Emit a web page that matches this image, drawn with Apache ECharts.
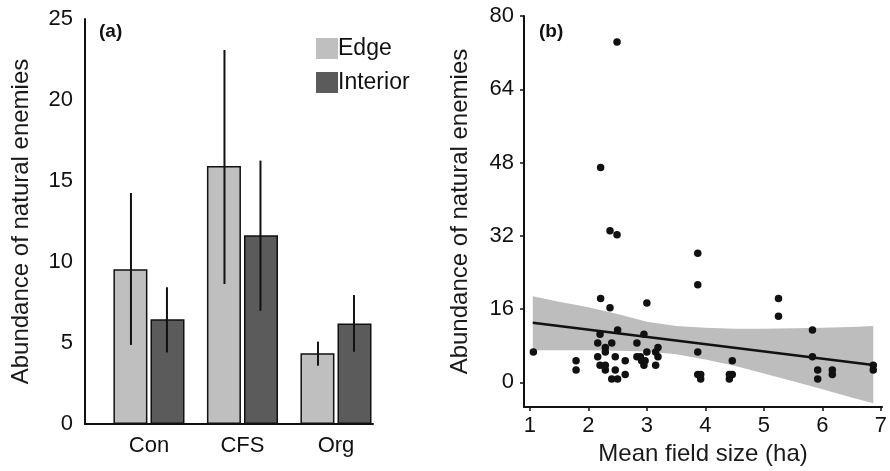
<!DOCTYPE html>
<html>
<head>
<meta charset="utf-8">
<script src="https://cdn.jsdelivr.net/npm/echarts@6/dist/echarts.min.js"></script>
<style>
  html, body { margin: 0; padding: 0; background: #fff; }
  #chart { width: 890px; height: 471px; }
</style>
</head>
<body>
<div id="chart"></div>
<script>
// panel (a): bars with error bars
var categories = ['Con', 'CFS', 'Org'];
var edgeMean = [9.55, 15.93, 4.36];
var edgeLow = [4.88, 8.64, 3.60];
var edgeHigh = [14.26, 23.09, 5.08];
var interiorMean = [6.46, 11.65, 6.21];
var interiorLow = [4.42, 6.99, 4.46];
var interiorHigh = [8.44, 16.26, 7.96];

// panel (b): scatter, fitted line, confidence band
var fieldSize = [1.06, 1.79, 1.79, 2.16, 2.16, 2.20, 2.21, 2.21, 2.20, 2.29, 2.29, 2.29, 2.29,
  2.37, 2.37, 2.40, 2.40, 2.46, 2.46, 2.49, 2.49, 2.50, 2.50, 2.63, 2.63, 2.83, 2.83, 2.89,
  2.91, 2.95, 2.95, 2.97, 3.00, 3.00, 3.15, 3.15, 3.19, 3.19, 3.87, 3.87, 3.87, 3.87, 3.92,
  3.92, 4.41, 4.41, 4.46, 4.46, 5.25, 5.25, 5.83, 5.83, 5.92, 5.92, 6.17, 6.17, 6.87, 6.87];
var abundance = [6.6, 4.7, 2.7, 8.6, 5.6, 10.5, 18.3, 46.9, 3.7, 7.6, 6.6, 3.7, 2.7,
  16.3, 33.1, 8.6, 0.7, 5.6, 2.7, 74.3, 32.2, 11.4, 0.7, 4.7, 1.7, 8.6, 5.6, 5.6,
  4.7, 10.5, 3.7, 4.7, 17.3, 6.6, 6.6, 3.7, 7.6, 5.6, 28.2, 21.3, 6.6, 1.7, 1.7,
  0.7, 0.7, 1.7, 1.7, 4.7, 18.3, 14.4, 11.4, 5.6, 2.7, 0.7, 2.7, 1.7, 3.7, 2.7];
var fitX = [1.05, 6.87];
var fitY = [13.0, 3.8];
var bandX = [1.05, 1.5, 2.0, 2.5, 3.0, 3.5, 4.0, 4.5, 5.0, 5.5, 6.0, 6.5, 6.87];
var bandUpper = [18.8, 17.6, 16.4, 14.9, 13.2, 12.3, 11.9, 11.7, 11.7, 11.8, 11.9, 12.1, 12.3];
var bandLower = [7.0, 7.0, 7.0, 6.9, 6.7, 6.1, 5.0, 3.6, 1.9, 0.2, -1.5, -3.3, -4.6];
var yTicksA = [0, 5, 10, 15, 20, 25];
var yTicksB = [0, 16, 32, 48, 64, 80];
var xTicksB = [1, 2, 3, 4, 5, 6, 7];

var FONT = "'Liberation Sans', Arial, sans-serif";
var INK = '#111';

function pairs(xs, ys) {
  return xs.map(function (x, i) { return [x, ys[i]]; });
}
function catPos(arr) {
  return arr.map(function (v, i) { return [i + 1, v]; });
}
function errData(lo, hi) {
  return lo.map(function (v, i) { return [i + 1, v, hi[i]]; });
}
function errorBar(offset) {
  return function (params, api) {
    var a = api.coord([api.value(0), api.value(1)]);
    var b = api.coord([api.value(0), api.value(2)]);
    return {
      type: 'line',
      shape: { x1: a[0] + offset, y1: a[1], x2: b[0] + offset, y2: b[1] },
      style: { stroke: INK, lineWidth: 2 }
    };
  };
}

var axisLineStyle = { show: true, onZero: false, lineStyle: { color: INK, width: 2 } };
var labelStyle = { color: INK, fontSize: 22, fontFamily: FONT };
var nameStyle = { color: '#1a1a1a', fontSize: 24, fontFamily: FONT };

var chart = echarts.init(document.getElementById('chart'));
chart.setOption({
  animation: false,
  backgroundColor: '#fff',
  title: [
    { text: '(a)', left: 94, top: 17, textStyle: { fontSize: 19, fontWeight: 'bold', color: INK, fontFamily: FONT } },
    { text: '(b)', left: 534, top: 17, textStyle: { fontSize: 19, fontWeight: 'bold', color: INK, fontFamily: FONT } }
  ],
  legend: {
    data: ['Edge', 'Interior'],
    orient: 'vertical',
    left: 311,
    top: 32,
    itemWidth: 22,
    itemHeight: 21,
    itemGap: 11,
    icon: 'rect',
    itemStyle: { borderWidth: 0 },
    textStyle: { fontSize: 23, color: INK, fontFamily: FONT, padding: [0, 0, 0, -5] }
  },
  grid: [
    { left: 85, top: 19, width: 288, height: 405 },
    { left: 524, top: 16, width: 366, height: 394 }
  ],
  xAxis: [
    {
      gridIndex: 0, type: 'value', min: 0.316, max: 3.396,
      axisLine: axisLineStyle,
      axisTick: { show: false },
      splitLine: { show: false },
      axisLabel: Object.assign({
        margin: 11,
        customValues: [1, 2, 3],
        formatter: function (v) { return categories[Math.round(v) - 1]; }
      }, labelStyle)
    },
    {
      gridIndex: 1, type: 'value', min: 0.9, max: 7.02,
      name: 'Mean field size (ha)', nameLocation: 'middle', nameGap: 24,
      nameTextStyle: nameStyle,
      axisLine: axisLineStyle,
      axisTick: { show: true, length: 4, customValues: xTicksB, lineStyle: { color: INK, width: 1.5 } },
      splitLine: { show: false },
      axisLabel: Object.assign({ margin: 8, customValues: xTicksB }, labelStyle)
    }
  ],
  yAxis: [
    {
      gridIndex: 0, type: 'value', min: 0, max: 25,
      name: 'Abundance of natural enemies', nameLocation: 'middle', nameGap: 52,
      nameTextStyle: nameStyle,
      axisLine: axisLineStyle,
      axisTick: { show: false },
      splitLine: { show: false },
      axisLabel: Object.assign({ margin: 12, customValues: yTicksA }, labelStyle)
    },
    {
      gridIndex: 1, type: 'value', min: -5.42, max: 80,
      name: 'Abundance of natural enemies', nameLocation: 'middle', nameGap: 52,
      nameTextStyle: nameStyle,
      axisLine: axisLineStyle,
      axisTick: { show: true, length: 4, customValues: yTicksB, lineStyle: { color: INK, width: 1.5 } },
      splitLine: { show: false },
      axisLabel: Object.assign({ margin: 10, customValues: yTicksB }, labelStyle)
    }
  ],
  series: [
    {
      name: 'Edge', type: 'bar', xAxisIndex: 0, yAxisIndex: 0,
      data: catPos(edgeMean), barWidth: 34, barGap: '9%',
      itemStyle: { color: '#bfbfbf', borderColor: INK, borderWidth: 1.5 }
    },
    {
      name: 'Interior', type: 'bar', xAxisIndex: 0, yAxisIndex: 0,
      data: catPos(interiorMean), barWidth: 34, barGap: '9%',
      itemStyle: { color: '#5b5b5b', borderColor: INK, borderWidth: 1.5 }
    },
    {
      type: 'custom', xAxisIndex: 0, yAxisIndex: 0, z: 5,
      data: errData(edgeLow, edgeHigh), renderItem: errorBar(-18)
    },
    {
      type: 'custom', xAxisIndex: 0, yAxisIndex: 0, z: 5,
      data: errData(interiorLow, interiorHigh), renderItem: errorBar(18)
    },
    {
      type: 'custom', xAxisIndex: 1, yAxisIndex: 1, z: 1,
      data: [[bandX[0], bandLower[0]]],
      renderItem: function (params, api) {
        var pts = [];
        for (var i = 0; i < bandX.length; i++) pts.push(api.coord([bandX[i], bandUpper[i]]));
        for (var j = bandX.length - 1; j >= 0; j--) pts.push(api.coord([bandX[j], bandLower[j]]));
        return { type: 'polygon', shape: { points: pts }, style: { fill: '#bdbdbd' } };
      }
    },
    {
      type: 'line', xAxisIndex: 1, yAxisIndex: 1, z: 3,
      data: pairs(fitX, fitY), symbol: 'none',
      lineStyle: { color: INK, width: 2.5 }
    },
    {
      type: 'scatter', xAxisIndex: 1, yAxisIndex: 1, z: 4,
      data: pairs(fieldSize, abundance), symbolSize: 7.5,
      itemStyle: { color: INK, opacity: 1 }
    }
  ]
});
</script>
</body>
</html>
